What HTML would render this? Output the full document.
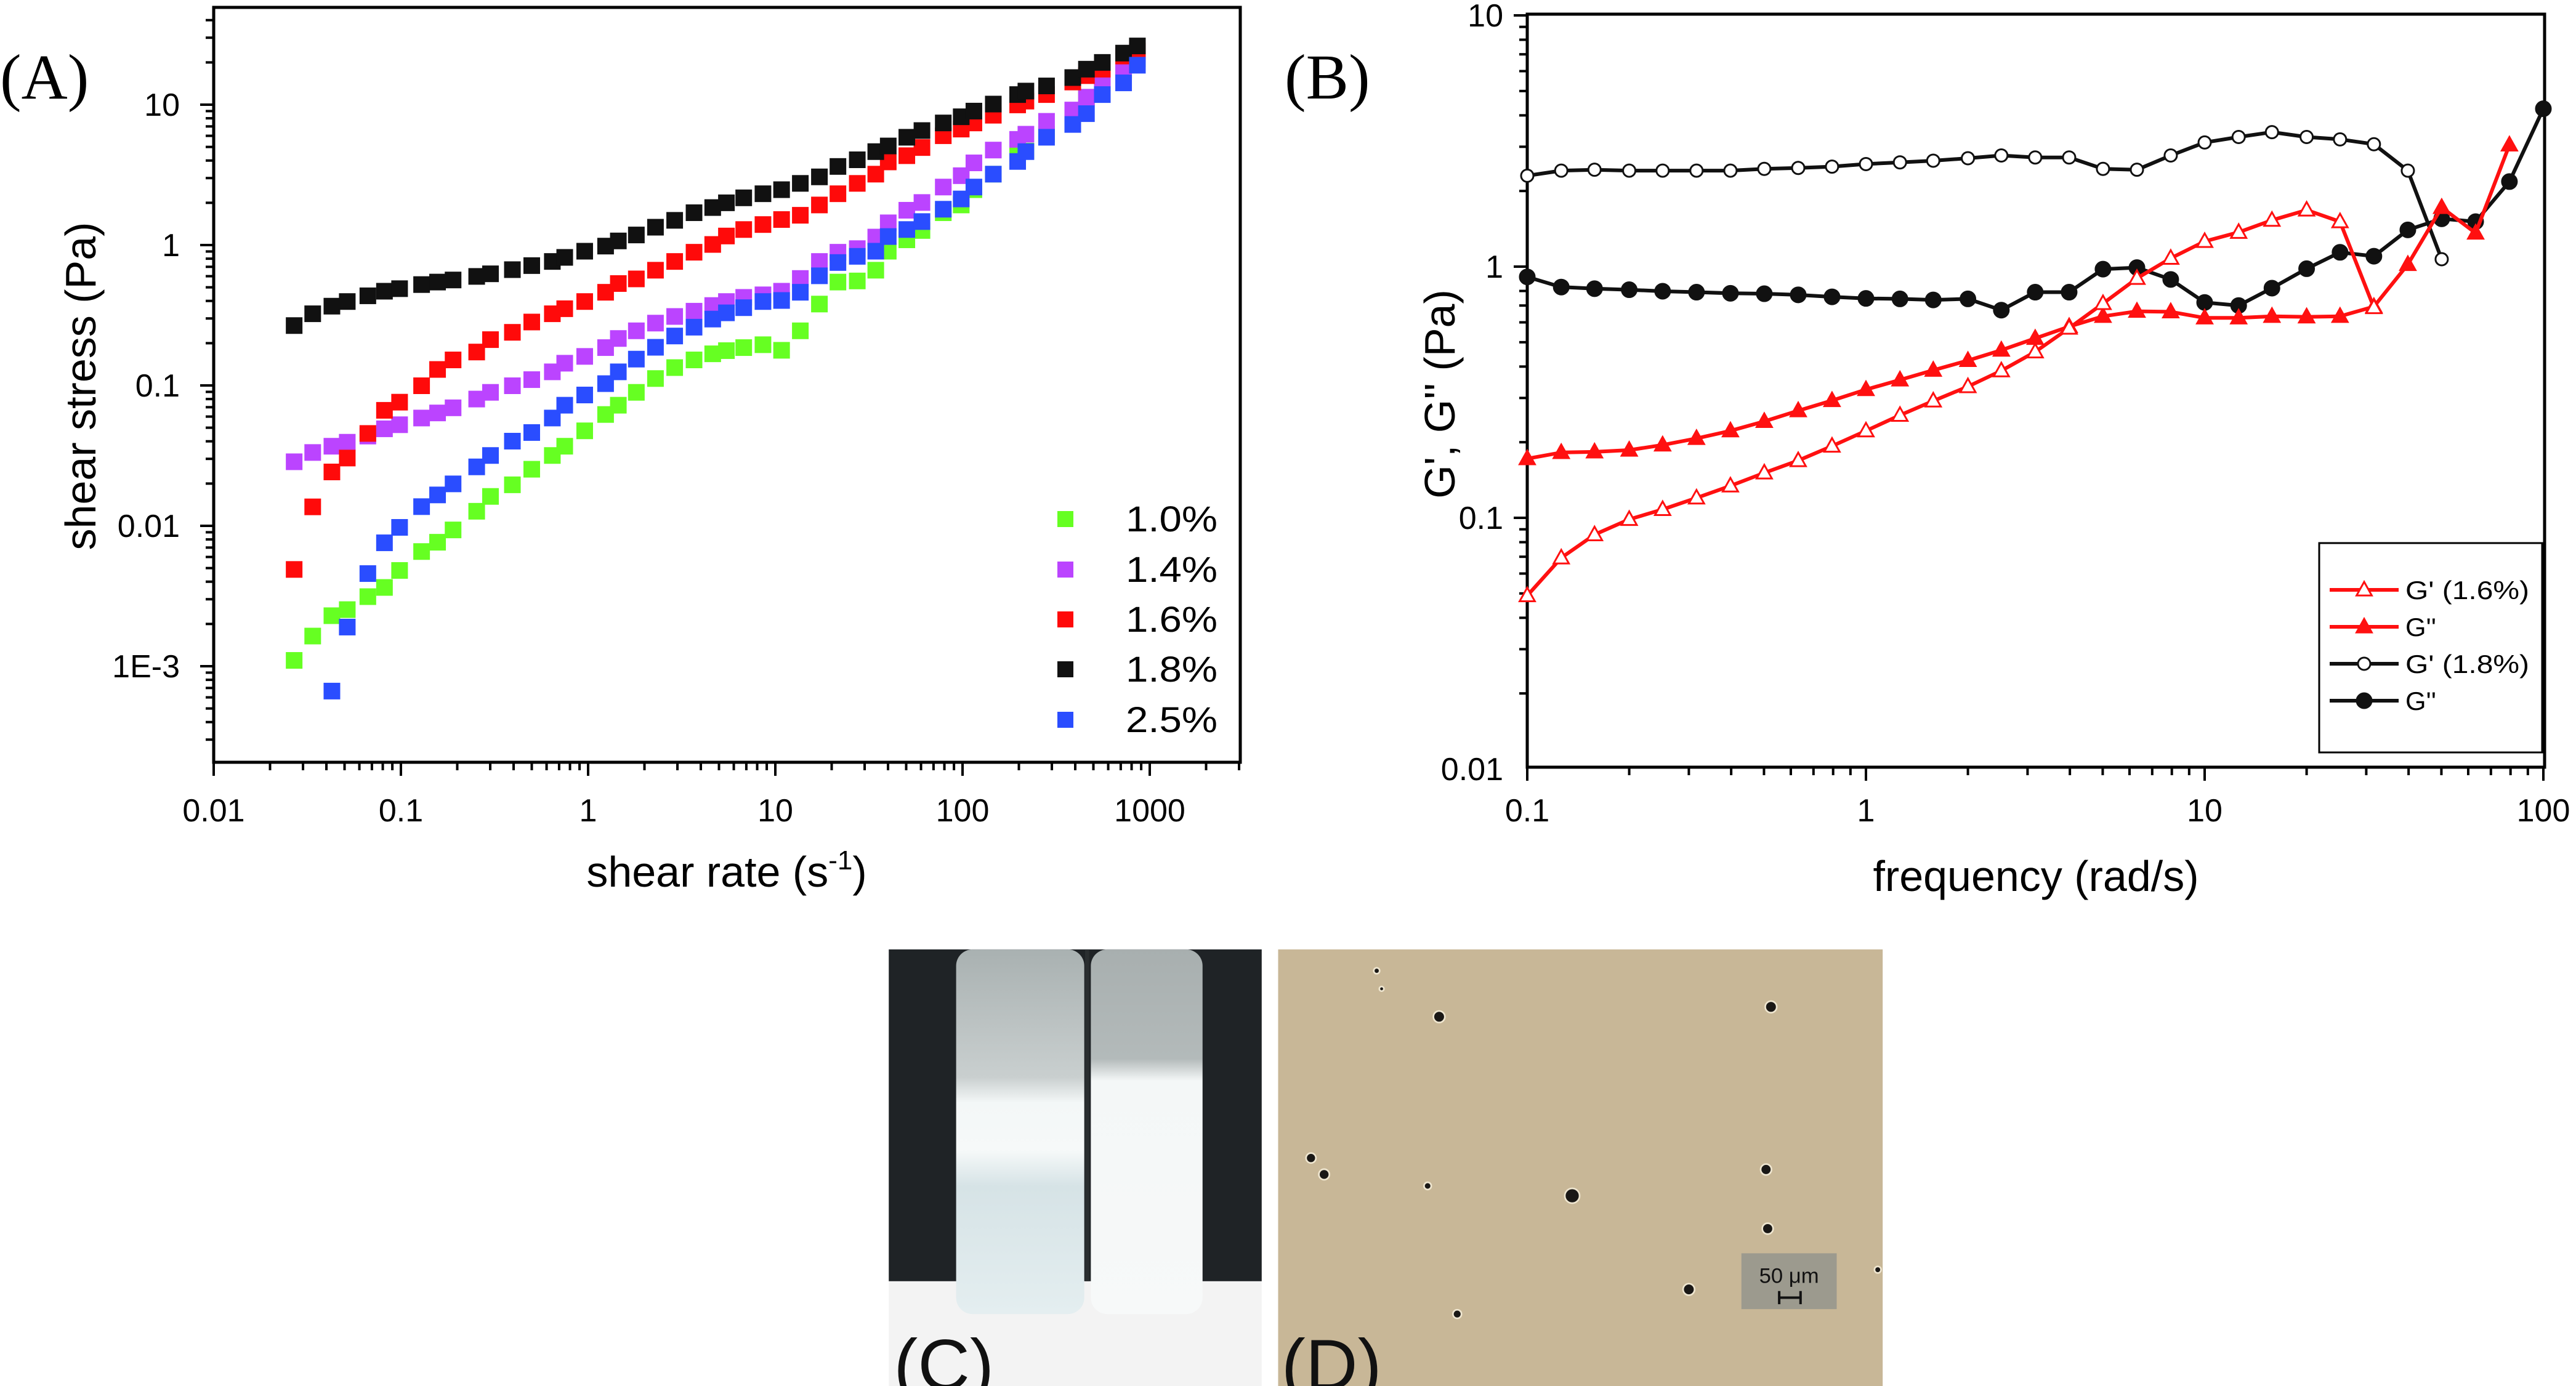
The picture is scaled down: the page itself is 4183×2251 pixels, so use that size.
<!DOCTYPE html>
<html><head><meta charset="utf-8"><style>
html,body{margin:0;padding:0;background:#fff;}
svg{display:block;}
text{font-family:"Liberation Sans",sans-serif;}
text.serif{font-family:"Liberation Serif",serif;}
</style></head><body>
<svg id="fig" xmlns="http://www.w3.org/2000/svg" width="4183" height="2251" viewBox="0 0 4183 2251">
<rect x="0" y="0" width="4183" height="2251" fill="#fff"/>
<g id="panelA"></g>
<g id="panelB"></g>
<g transform="scale(2.6677)">
  <g>
    <defs>
      <linearGradient id="tubeL" x1="0" y1="0" x2="0" y2="1">
        <stop offset="0" stop-color="#a9b1b1"/><stop offset="0.35" stop-color="#c9cfcf"/><stop offset="0.42" stop-color="#f3f7f7"/><stop offset="0.55" stop-color="#f6f9f9"/><stop offset="0.65" stop-color="#d6e3e6"/><stop offset="1" stop-color="#e4eef0"/>
      </linearGradient>
      <linearGradient id="tubeR" x1="0" y1="0" x2="0" y2="1">
        <stop offset="0" stop-color="#a8afaf"/><stop offset="0.3" stop-color="#b3baba"/><stop offset="0.36" stop-color="#f4f7f7"/><stop offset="1" stop-color="#f7f9f9"/>
      </linearGradient>
    </defs>
    <rect x="541" y="578" width="227" height="266" fill="#f3f3f3"/>
    <rect x="541" y="578" width="227" height="202" fill="#1f2326"/>
    <rect x="582" y="578" width="78" height="222" rx="10" fill="url(#tubeL)"/>
    <rect x="664" y="578" width="68" height="222" rx="10" fill="url(#tubeR)"/>
    <rect x="660.5" y="578" width="2.5" height="202" fill="#2a2e30"/>
    <text x="544" y="846" font-size="44" fill="#111">(C)</text>
  </g>
  <g>
    <rect x="778" y="578" width="368" height="266" fill="#c8b797"/>
    <g fill="#1a1816" stroke="#efe6d0" stroke-width="1">
      <circle cx="876" cy="619" r="3.5"/><circle cx="1078" cy="613" r="3.5"/>
      <circle cx="798" cy="705" r="3"/><circle cx="806" cy="715" r="3.2"/>
      <circle cx="957" cy="728" r="4.5"/><circle cx="1075" cy="712" r="3.3"/>
      <circle cx="1076" cy="748" r="3.3"/><circle cx="869" cy="722" r="2.2"/>
      <circle cx="1028" cy="785" r="3.5"/><circle cx="887" cy="800" r="2.6"/>
      <circle cx="838" cy="591" r="1.8"/><circle cx="841" cy="602" r="1.4"/>
      <circle cx="1143" cy="773" r="2"/>
    </g>
    <rect x="1060" y="763" width="58" height="34" fill="#9c9a8e"/>
    <text x="1089" y="781" font-size="13" text-anchor="middle" fill="#111">50 μm</text>
    <path d="M1083 790 H1096 M1083 786 V794 M1096 786 V794" stroke="#111" stroke-width="1.5" fill="none"/>
    <text x="780" y="846" font-size="44" fill="#111">(D)</text>
  </g>
</g>
</svg>
<script>
// ---------- Panel A data ----------
const shearRate = [0.0269,0.0338,0.0428,0.0517,0.0666,0.0817,0.0984,0.129,0.157,0.190,0.254,0.301,0.394,0.500,0.644,0.750,0.959,1.24,1.45,1.81,2.29,2.90,3.68,4.63,5.48,6.78,8.59,10.8,13.6,17.2,21.6,27.4,34.4,40.1,50.4,60.7,78.9,98.4,115,146,197,218,281,388,459,558,725,859];
const stress10 = [0.00110,0.00164,0.00229,0.00253,0.00313,0.00364,0.00481,0.00656,0.00764,0.00935,0.0127,0.0162,0.0196,0.0253,0.0317,0.0369,0.0475,0.0621,0.0723,0.0893,0.112,0.134,0.152,0.168,0.177,0.186,0.195,0.178,0.245,0.380,0.545,0.555,0.662,0.904,1.09,1.27,1.70,1.93,2.48,3.20,4.48,4.67,6.16,8.41,11.3,14.5,17.7,21.2];
const stress14 = [0.0286,0.0333,0.0369,0.0394,0.0436,0.0491,0.0525,0.0586,0.0637,0.0693,0.0800,0.0893,0.0995,0.110,0.125,0.144,0.161,0.186,0.216,0.245,0.278,0.310,0.338,0.371,0.396,0.424,0.442,0.469,0.578,0.764,0.889,0.943,1.14,1.44,1.77,2.01,2.59,3.12,3.85,4.75,5.66,6.16,7.61,9.16,11.3,14.3,17.2,22.7];
const stress16 = [0.00489,0.01365,0.0242,0.0304,0.0455,0.0665,0.0760,0.0995,0.130,0.152,0.173,0.212,0.239,0.283,0.324,0.352,0.396,0.461,0.532,0.574,0.662,0.764,0.889,1.01,1.16,1.29,1.40,1.52,1.63,1.93,2.32,2.75,3.20,3.91,4.33,4.95,6.01,6.70,7.41,8.41,9.96,10.6,11.8,14.5,16.1,17.9,22.2,24.1];
const stress18 = [0.267,0.324,0.367,0.396,0.435,0.469,0.489,0.523,0.545,0.564,0.598,0.624,0.668,0.714,0.764,0.817,0.904,0.983,1.07,1.18,1.34,1.50,1.70,1.85,2.00,2.17,2.32,2.48,2.75,3.06,3.63,4.05,4.63,5.08,5.86,6.54,7.41,8.20,9.00,10.1,11.8,12.5,13.6,15.6,17.9,20.0,23.3,26.2];
const stress25 = [0.000665,0.00190,0.00457,0.00757,0.00975,0.0137,0.0166,0.0199,0.0263,0.0317,0.0401,0.0462,0.0586,0.0723,0.0855,0.103,0.125,0.154,0.187,0.225,0.260,0.297,0.329,0.358,0.396,0.403,0.461,0.604,0.751,0.831,0.904,1.15,1.29,1.47,1.80,2.13,2.59,3.20,3.94,4.63,5.86,7.23,8.63,11.8,14.3,19.1];
const seriesNamesA = ["1.0%","1.4%","1.6%","1.8%","2.5%"];
const xTicksA = [0.01,0.1,1,10,100,1000];
const xTickLabelsA = ["0.01","0.1","1","10","100","1000"];
const yTicksA = [10,1,0.1,0.01,0.001];
const yTickLabelsA = ["10","1","0.1","0.01","1E-3"];

// ---------- Panel B data ----------
const freq = [0.1,0.126,0.158,0.2,0.251,0.316,0.398,0.501,0.631,0.794,1,1.26,1.58,2,2.51,3.16,3.98,5.01,6.31,7.94,10,12.6,15.8,20,25.1,31.6,39.8,50.1,63.1,79.4,100];
const gp16 = [0.0490,0.0693,0.0857,0.0986,0.108,0.120,0.134,0.151,0.169,0.193,0.222,0.256,0.292,0.333,0.385,0.458,0.569,0.713,0.898,1.08,1.26,1.37,1.53,1.68,1.51,0.687];
const gpp16 = [0.172,0.182,0.183,0.186,0.195,0.207,0.222,0.242,0.267,0.293,0.324,0.354,0.387,0.423,0.465,0.518,0.577,0.634,0.664,0.661,0.625,0.625,0.634,0.631,0.634,0.693,1.02,1.72,1.36,3.05];
const gp18 = [2.30,2.41,2.43,2.41,2.41,2.41,2.41,2.45,2.47,2.50,2.56,2.60,2.64,2.70,2.77,2.72,2.72,2.45,2.43,2.77,3.12,3.28,3.43,3.28,3.21,3.07,2.41,1.07];
const gpp18 = [0.910,0.829,0.817,0.809,0.798,0.791,0.783,0.780,0.772,0.758,0.747,0.744,0.737,0.744,0.671,0.791,0.791,0.977,0.991,0.889,0.720,0.700,0.821,0.981,1.14,1.10,1.40,1.55,1.51,2.18,4.25];
const legendB = ["G' (1.6%)","G''","G' (1.8%)","G''"];
const xTicksB = [0.1,1,10,100];
const xTickLabelsB = ["0.1","1","10","100"];
const yTicksB = [10,1,0.1,0.01];
const yTickLabelsB = ["10","1","0.1","0.01"];

const NS = "http://www.w3.org/2000/svg";
function mk(parent, tag, attrs, txt){
  const e = document.createElementNS(NS, tag);
  for (const k in attrs) e.setAttribute(k, attrs[k]);
  if (txt !== undefined) e.textContent = txt;
  parent.appendChild(e);
  return e;
}
const L = Math.log10;

// axis functions
const xA = v => 347 + 304*(L(v)+2);
const yA = v => 398 - 228*L(v);
const xB = v => 2480 + 550*(L(v)+1);
const yB = v => 433 - 408*L(v);
const A_RIGHT = 2014, A_TOP = 12, A_BOT = 1238;
const B_RIGHT = 4132, B_TOP = 23, B_BOT = 1246;

// ===== Panel A =====
const gA = document.getElementById('panelA');
const frameA = mk(gA,'rect',{x:347,y:A_TOP,width:A_RIGHT-347,height:A_BOT-A_TOP,fill:'none',stroke:'#000','stroke-width':5});


for (let d=-2; d<=3; d++){
  for (let m=1; m<=9; m++){
    const v = m*Math.pow(10,d);
    const px = xA(v);
    if (px > A_RIGHT) continue;
    const t = mk(gA,'line',{x1:px,y1:A_BOT,x2:px,y2:A_BOT+(m===1?22:13),stroke:'#000','stroke-width':4});
    
    
  }
}
xTicksA.forEach((v,i)=>{
  const t = mk(gA,'text',{x:xA(v),y:1334,'font-size':52,'text-anchor':'middle',fill:'#000'},xTickLabelsA[i]);
  
  
});
for (let d=-4; d<=1; d++){
  for (let m=1; m<=9; m++){
    const v = m*Math.pow(10,d);
    const py = yA(v);
    if (py < A_TOP || py > A_BOT) continue;
    const t = mk(gA,'line',{x1:347,y1:py,x2:347-(m===1?22:13),y2:py,stroke:'#000','stroke-width':4});
    
    
  }
}
yTicksA.forEach((v,i)=>{
  const t = mk(gA,'text',{x:292,y:yA(v)+18,'font-size':52,'text-anchor':'end',fill:'#000'},yTickLabelsA[i]);
  
  
});
const xtA = mk(gA,'text',{x:1180,y:1440,'font-size':70,'text-anchor':'middle',fill:'#000'});


xtA.innerHTML = 'shear rate (s<tspan dy="-28" font-size="44">-1</tspan><tspan dy="28">)</tspan>';
const ytA = mk(gA,'text',{x:0,y:0,'font-size':70,'text-anchor':'middle',fill:'#000',transform:'translate(155,627) rotate(-90)'},'shear stress (Pa)');


const labA = mk(gA,'text',{x:0,y:160,'font-size':104,fill:'#000','class':'serif'},'(A)');



const seriesA = [
  {vals:stress10, xs:shearRate, color:'#66ff22'},
  {vals:stress14, xs:shearRate, color:'#bb44ff'},
  {vals:stress16, xs:shearRate, color:'#ff0a0a'},
  {vals:stress18, xs:shearRate, color:'#111111'},
  {vals:stress25, xs:shearRate.slice(2), color:'#2a4dff'}
];
const S = 27;
seriesA.forEach((s,si)=>{
  const g = mk(gA,'g',{});
  
  
  s.vals.forEach((v,i)=>{
    const r = mk(g,'rect',{x:xA(s.xs[i])-S/2,y:yA(v)-S/2,width:S,height:S,fill:s.color});
    
    
  });
});
const legYA = [843,925,1006,1087,1169];
seriesA.forEach((s,i)=>{
  const g = mk(gA,'g',{});
  
  
  mk(g,'rect',{x:1717,y:legYA[i]-13,width:26,height:26,fill:s.color});
  mk(g,'text',{x:1828,y:legYA[i]+20,'font-size':58,fill:'#000',textLength:149,lengthAdjust:'spacingAndGlyphs'},seriesNamesA[i]);
});

// ===== Panel B =====
const gB = document.getElementById('panelB');
const frameB = mk(gB,'rect',{x:2480,y:B_TOP,width:B_RIGHT-2480,height:B_BOT-B_TOP,fill:'none',stroke:'#000','stroke-width':5});


for (let d=-1; d<=2; d++){
  for (let m=1; m<=9; m++){
    const v = m*Math.pow(10,d);
    const px = xB(v);
    if (px > B_RIGHT+1) continue;
    const t = mk(gB,'line',{x1:px,y1:B_BOT,x2:px,y2:B_BOT+(m===1?22:13),stroke:'#000','stroke-width':4});
    
    
  }
}
xTicksB.forEach((v,i)=>{
  const t = mk(gB,'text',{x:xB(v),y:1334,'font-size':52,'text-anchor':'middle',fill:'#000'},xTickLabelsB[i]);
  
  
});
for (let d=-2; d<=1; d++){
  for (let m=1; m<=9; m++){
    const v = m*Math.pow(10,d);
    const py = yB(v);
    if (py < B_TOP-2 || py > B_BOT+2) continue;
    const t = mk(gB,'line',{x1:2480,y1:py,x2:2480-(m===1?22:13),y2:py,stroke:'#000','stroke-width':4});
    
    
  }
}
yTicksB.forEach((v,i)=>{
  const t = mk(gB,'text',{x:2441,y:yB(v)+18,'font-size':52,'text-anchor':'end',fill:'#000'},yTickLabelsB[i]);
  
  
});
const xtB = mk(gB,'text',{x:3306,y:1447,'font-size':70,'text-anchor':'middle',fill:'#000'},'frequency (rad/s)');


const ytB = mk(gB,'text',{x:0,y:0,'font-size':70,'text-anchor':'middle',fill:'#000',transform:'translate(2362,640) rotate(-90)'},"G', G'' (Pa)");


const labB = mk(gB,'text',{x:2086,y:160,'font-size':104,fill:'#000','class':'serif'},'(B)');



function marker(g, type, cx, cy, color){
  let e;
  if (type==='tri-open' || type==='tri-fill'){
    const r=13;
    e = mk(g,'polygon',{points:`${cx},${cy-r} ${cx-r*0.95},${cy+r*0.7} ${cx+r*0.95},${cy+r*0.7}`,fill:type==='tri-fill'?color:'#fff',stroke:color,'stroke-width':3});
  } else {
    e = mk(g,'circle',{cx:cx,cy:cy,r:type==='circ-fill'?12:10,fill:type==='circ-fill'?color:'#fff',stroke:color,'stroke-width':3});
  }
  return e;
}
const seriesB = [
  {vals:gp18, color:'#111', type:'circ-open', name:'g-prime-1-8pct'},
  {vals:gpp18, color:'#111', type:'circ-fill', name:'g-double-prime-1-8pct'},
  {vals:gpp16, color:'#ff1010', type:'tri-fill', name:'g-double-prime-1-6pct'},
  {vals:gp16, color:'#ff1010', type:'tri-open', name:'g-prime-1-6pct'}
];
seriesB.forEach(s=>{
  const g = mk(gB,'g',{});
  
  
  const pts = s.vals.map((v,i)=>xB(freq[i]).toFixed(1)+','+yB(v).toFixed(1)).join(' ');
  const ln = mk(g,'polyline',{points:pts,fill:'none',stroke:s.color,'stroke-width':6,'stroke-linejoin':'round'});
  
  
  s.vals.forEach((v,i)=>{
    const m = marker(g, s.type, xB(freq[i]), yB(v), s.color);
    
    
  });
});
const legBox = mk(gB,'rect',{x:3766,y:882,width:362,height:340,fill:'#fff',stroke:'#000','stroke-width':3});


const legYB = [958,1018,1078,1138];
const legSpec = [{c:'#ff1010',t:'tri-open'},{c:'#ff1010',t:'tri-fill'},{c:'#111',t:'circ-open'},{c:'#111',t:'circ-fill'}];
legendB.forEach((lab,i)=>{
  const g = mk(gB,'g',{});
  
  
  mk(g,'line',{x1:3783,y1:legYB[i],x2:3895,y2:legYB[i],stroke:legSpec[i].c,'stroke-width':6});
  marker(g, legSpec[i].t, 3839, legYB[i], legSpec[i].c);
  const w = lab.length>4 ? 201 : 50;
  mk(g,'text',{x:3906,y:legYB[i]+15,'font-size':42,fill:'#000',textLength:w,lengthAdjust:'spacingAndGlyphs'},lab);
});
</script>
</body></html>
